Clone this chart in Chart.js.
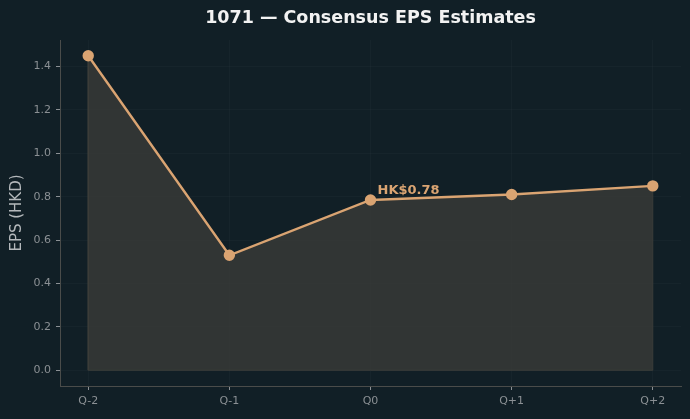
<!DOCTYPE html>
<html>
<head>
<meta charset="utf-8">
<script src="https://cdn.jsdelivr.net/npm/chart.js@4.4.0/dist/chart.umd.min.js"></script>
<style>
  html, body { margin: 0; padding: 0; background: #111f26; }
  #wrap { width: 690px; height: 419px; }
</style>
</head>
<body>
<div id="wrap"><canvas id="c" width="690" height="419"></canvas></div>
<script>
// data
var quarters = ['Q-2', 'Q-1', 'Q0', 'Q+1', 'Q+2'];
var epsValues = [1.45, 0.53, 0.785, 0.81, 0.85];
var yTicks = [0.0, 0.2, 0.4, 0.6, 0.8, 1.0, 1.2, 1.4];
var noteIndex = 2;
var noteText = 'HK$0.78';
var titleText = '1071 — Consensus EPS Estimates';

var lineColor = '#daa472';
var tickColor = '#8b9094';
var gridColor = 'rgba(255,255,255,0.025)';
var spineColor = '#4a4c4a';

var points = quarters.map((q, i) => ({ x: i, y: epsValues[i] }));
var last = quarters.length - 1;
// outline of the filled area (sides and baseline)
var outline = [
  { x: 0, y: epsValues[0] }, { x: 0, y: 0 },
  { x: last, y: 0 }, { x: last, y: epsValues[last] }
];

var yMin = -0.05 * Math.max(...epsValues);
var yMax = Math.max(...epsValues) * 1.05;

// title centred over the plot area, and the note on the current quarter
var textPlugin = {
  id: 'texts',
  afterDatasetsDraw(chart) {
    var ctx = chart.ctx;
    var area = chart.chartArea;
    ctx.save();
    ctx.font = 'bold 17.5px "DejaVu Sans"';
    ctx.fillStyle = '#f2f2f2';
    ctx.textAlign = 'center';
    ctx.textBaseline = 'middle';
    ctx.fillText(titleText, (area.left + area.right) / 2, 18);

    var x = chart.scales.x.getPixelForValue(noteIndex);
    var y = chart.scales.y.getPixelForValue(epsValues[noteIndex]);
    ctx.font = 'bold 13px "DejaVu Sans"';
    ctx.fillStyle = lineColor;
    ctx.textAlign = 'left';
    ctx.textBaseline = 'alphabetic';
    ctx.fillText(noteText, x + 7, y - 6);
    ctx.restore();
  }
};

new Chart(document.getElementById('c'), {
  type: 'line',
  data: {
    datasets: [
      {
        data: points,
        borderColor: lineColor,
        borderWidth: 2.4,
        backgroundColor: 'rgba(62,62,58,0.7)',
        fill: 'origin',
        pointRadius: 4.5,
        pointBackgroundColor: lineColor,
        pointBorderColor: lineColor,
        tension: 0,
        order: 1
      },
      {
        data: outline,
        borderColor: '#3b3d3a',
        borderWidth: 1,
        pointRadius: 0,
        fill: false,
        order: 2
      }
    ]
  },
  options: {
    responsive: false,
    animation: false,
    layout: { padding: { left: 0, right: 9, top: 40, bottom: 0 } },
    plugins: {
      legend: { display: false },
      tooltip: { enabled: false },
      title: { display: false }
    },
    scales: {
      x: {
        type: 'linear',
        min: -0.2,
        max: last + 0.2,
        afterBuildTicks: s => { s.ticks = quarters.map((q, i) => ({ value: i })); },
        afterFit: s => { s.height = 33; },
        ticks: {
          color: tickColor,
          font: { family: 'DejaVu Sans', size: 11 },
          padding: 5,
          maxRotation: 0,
          callback: v => quarters[v]
        },
        grid: { color: gridColor, tickColor: tickColor, tickLength: 4 },
        border: { color: spineColor, width: 1 }
      },
      y: {
        min: yMin,
        max: yMax,
        afterBuildTicks: s => { s.ticks = yTicks.map(v => ({ value: v })); },
        afterFit: s => { s.width = 60; },
        ticks: {
          color: tickColor,
          font: { family: 'DejaVu Sans', size: 11 },
          padding: 5,
          callback: v => v.toFixed(1)
        },
        grid: { color: gridColor, tickColor: tickColor, tickLength: 4 },
        border: { color: spineColor, width: 1 },
        title: {
          display: true,
          text: 'EPS (HKD)',
          color: '#b4b8bb',
          font: { family: 'DejaVu Sans', size: 15 },
          padding: { top: 8, bottom: 4 }
        }
      }
    }
  },
  plugins: [textPlugin]
});
</script>
</body>
</html>
